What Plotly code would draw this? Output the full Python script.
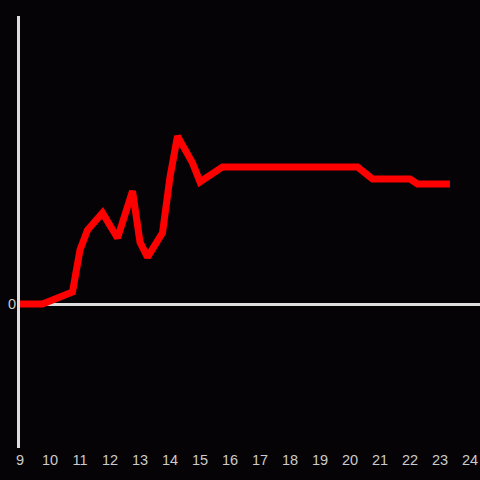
import plotly.graph_objects as go

hours = [9.0, 9.75, 10.75, 11.0, 11.25, 11.75, 12.25, 12.75, 13.0, 13.25, 13.75,
         14.0, 14.25, 14.75, 15.0, 15.75, 20.25, 20.75, 22.0, 22.25, 23.33]
values = [0, 0, 4.2, 18.8, 25.7, 31.6, 22.9, 39.2, 21.5, 16.3, 24.7,
          44.1, 58.3, 49.0, 42.4, 47.6, 47.6, 43.4, 43.4, 41.7, 41.7]
tick_vals = list(range(9, 25))

fig = go.Figure(go.Scatter(x=hours, y=values, mode="lines",
                           line=dict(color="#ff0000", width=7),
                           hoverinfo="skip"))
fig.update_layout(
    width=480, height=480,
    margin=dict(l=20, r=0, t=16, b=32, autoexpand=False),
    paper_bgcolor="#050305", plot_bgcolor="#050305",
    showlegend=False,
    font=dict(family="Liberation Sans, Arial, sans-serif", size=14.5, color="#cccccc"),
)
fig.update_xaxes(range=[9, 24.333], tickvals=tick_vals, showgrid=False,
                 zeroline=False, showline=False, ticks="", automargin=False,
                 ticklabelstandoff=1,
                 tickfont=dict(size=14.5, color="#cccccc"))
fig.update_yaxes(range=[-50, 100], tickvals=[0], showgrid=False,
                 zeroline=True, zerolinecolor="#dddddd", zerolinewidth=3,
                 showline=True, linecolor="#dddddd", linewidth=3,
                 ticks="", automargin=False, ticklabelstandoff=-2,
                 tickfont=dict(size=14.5, color="#cccccc"))
fig.write_html("out.html", config={"displayModeBar": False},
               post_script="document.body.style.margin='0';document.body.style.background='#050305';")
